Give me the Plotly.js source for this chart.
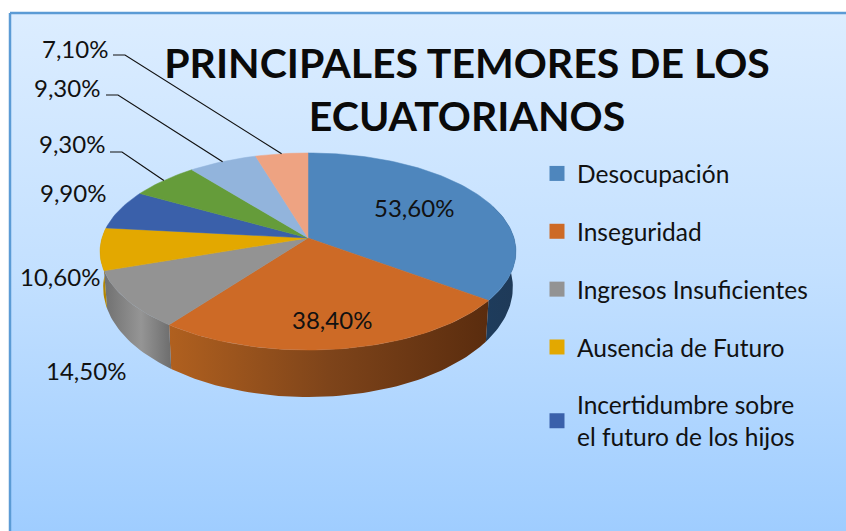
<!DOCTYPE html>
<html>
<head>
<meta charset="utf-8">
<script src="https://cdn.plot.ly/plotly-3.0.1.min.js"></script>
<style>html,body{margin:0;padding:0;background:#fff}#chart{width:846px;height:531px}</style>
</head>
<body>
<div id="chart"></div>
<script>
// ---- data ----
const values = [53.6, 38.4, 14.5, 10.6, 9.9, 9.3, 9.3, 7.1];
const categories = ["Desocupación", "Inseguridad", "Ingresos Insuficientes", "Ausencia de Futuro", "Incertidumbre sobre<br>el futuro de los hijos"];
const titleText = "PRINCIPALES TEMORES DE LOS<br>ECUATORIANOS";

// ---- styles ----
const topColors = ["#4e86bd", "#cd6a26", "#939393", "#e3a800", "#3a60aa", "#659c3a", "#92b4dc", "#eea382"];
const wallScales = [
  [[0, "#1e3c5c"], [1, "#1f3a58"]],
  [[0, "#b0601f"], [0.5, "#7e441a"], [1, "#5a2c0e"]],
  [[0, "#707070"], [0.55, "#959595"], [1, "#6d6d6d"]],
  [[0, "#b38500"], [1, "#b38500"]]
];
const FONT = "Lato, Carlito, Calibri, sans-serif";
const labelSpots = [[414, 207], [332, 319], [86, 370], [60, 276], [73, 192], [72, 143], [67, 87], [75, 48]];
const leaderKnees = {5: [[110, 152], [122, 152]], 6: [[106, 95], [118, 95]], 7: [[113, 55], [125, 55]]};

// ---- projection of the tilted disc into the plot's pixel-sized axes ----
const CX = 308, CY = 238, A = 206, a = 96.7, b = 0.137;
function rim(deg) {
  const t = deg * Math.PI / 180, u = Math.sin(t), v = -Math.cos(t), d = 1 - b * v;
  return [CX + A * u / d, CY + a * v / d];
}
function rimLow(deg) {
  const p = rim(deg);
  return [CX + (p[0] - CX) * 0.985, CY + 34.2 + (p[1] - CY) * 1.114];
}
function arc(fn, from, to) {
  const n = Math.max(2, Math.ceil(Math.abs(to - from) / 1.5)), out = [];
  for (let i = 0; i <= n; i++) out.push(fn(from + (to - from) * i / n));
  return out;
}
const total = values.reduce((s, x) => s + x, 0);
const edges = [0];
values.forEach(x => edges.push(edges[edges.length - 1] + x / total * 360));

const traces = [];
// panel
traces.push({
  x: [10, 860, 860, 10, 10], y: [13, 13, 545, 545, 13], mode: "lines", fill: "toself",
  line: {color: "#5b9bd5", width: 2.5}, hoverinfo: "skip", showlegend: false,
  fillgradient: {type: "vertical", colorscale: [[0, "#dcedff"], [0.5, "#c3e0ff"], [1, "#9fcdff"]], start: 13, stop: 531}
});
// side walls
wallScales.forEach((scale, i) => {
  const from = Math.max(edges[i], 70), to = Math.min(edges[i + 1], 290);
  const up = arc(rim, from, to), low = arc(rimLow, from, to).reverse(), poly = up.concat(low);
  poly.push(poly[0]);
  const xs = poly.map(p => p[0]);
  traces.push({
    x: xs, y: poly.map(p => p[1]), mode: "lines", fill: "toself", line: {width: 0},
    hoverinfo: "skip", showlegend: false,
    fillgradient: {type: "horizontal", colorscale: scale, start: Math.min(...xs), stop: Math.max(...xs)}
  });
});
// top slices
values.forEach((val, i) => {
  const poly = [[CX, CY]].concat(arc(rim, edges[i], edges[i + 1]), [[CX, CY]]);
  traces.push({
    x: poly.map(p => p[0]), y: poly.map(p => p[1]), mode: "lines", fill: "toself",
    fillcolor: topColors[i], line: {width: 0.5, color: topColors[i]},
    hoverinfo: "skip", showlegend: false
  });
});
// leader lines
Object.keys(leaderKnees).forEach(k => {
  const i = +k, end = rim((edges[i] + edges[i + 1]) / 2), pts = leaderKnees[k].concat([end]);
  traces.push({x: pts.map(p => p[0]), y: pts.map(p => p[1]), mode: "lines",
    line: {color: "#111", width: 1.2}, hoverinfo: "skip", showlegend: false});
});
// legend entries
categories.forEach((name, i) => {
  traces.push({x: [null], y: [null], mode: "markers", name: name, legendgroup: "g" + i,
    marker: {symbol: "square", size: 15, color: topColors[i]}});
});

const layout = {
  width: 846, height: 531,
  margin: {l: 0, r: 0, t: 0, b: 0, pad: 0},
  paper_bgcolor: "#ffffff", plot_bgcolor: "rgba(0,0,0,0)",
  title: {text: titleText, font: {family: FONT, size: 41, color: "#0a0a0a", weight: 700},
    x: 467 / 846, xanchor: "center", xref: "paper", y: 0.853, yanchor: "middle", yref: "container"},
  xaxis: {range: [0, 846], visible: false, fixedrange: true},
  yaxis: {range: [531, 0], visible: false, fixedrange: true},
  showlegend: true,
  legend: {x: 537 / 846, y: 1 - 151 / 531, xanchor: "left", yanchor: "top",
    font: {family: FONT, size: 24.5, color: "#111"}, traceorder: "grouped", tracegroupgap: 23,
    bgcolor: "rgba(0,0,0,0)", itemsizing: "trace", itemwidth: 30, itemclick: false, itemdoubleclick: false},
  annotations: values.map((val, i) => ({
    x: labelSpots[i][0], y: labelSpots[i][1], xref: "x", yref: "y", showarrow: false,
    xanchor: "center", yanchor: "middle",
    text: val.toFixed(2).replace(".", ",") + "%",
    font: {family: FONT, size: 24, color: "#111"}
  }))
};
Plotly.newPlot("chart", traces, layout, {displayModeBar: false, staticPlot: true});
</script>
</body>
</html>
